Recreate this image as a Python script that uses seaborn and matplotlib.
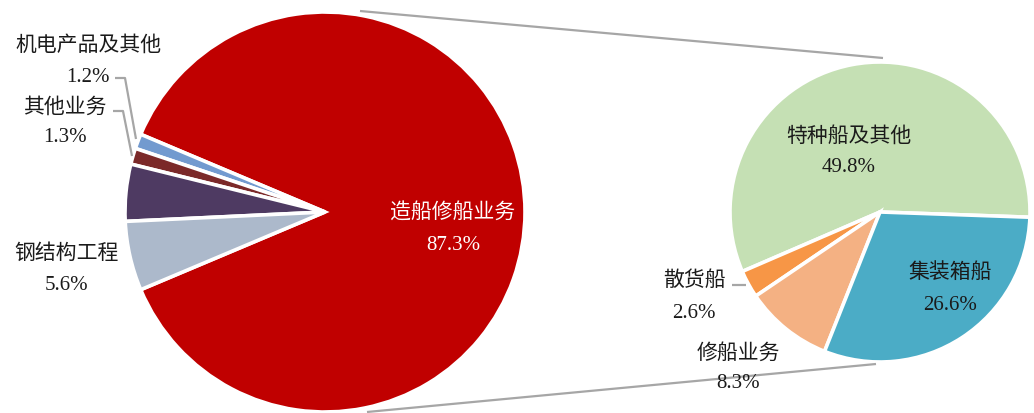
import matplotlib
matplotlib.use("Agg")
import matplotlib.pyplot as plt
import seaborn as sns

# ---------------- data ----------------
left_labels = ["造船修船业务", "机电产品及其他", "其他业务", "", "钢结构工程"]
left_values = [87.3, 1.2, 1.3, 4.6, 5.6]
left_colors = ["#C00000", "#729ACF", "#7B2929", "#4E3A62", "#ACB9CB"]

right_labels = ["特种船及其他", "散货船", "修船业务", "集装箱船"]
right_values = [49.8, 2.6, 8.3, 26.6]
right_colors = ["#C5E0B4", "#F79646", "#F4B183", "#4BACC6"]

# ---------------- style ----------------
sns.set_theme(style="white")
plt.rcParams["font.family"] = ["Liberation Serif", "Noto Sans CJK SC", "DejaVu Sans"]

W, H = 1034, 413
fig = plt.figure(figsize=(W / 100, H / 100), dpi=100)
ax = fig.add_axes([0, 0, 1, 1])


def py(y):
    return H - y


LC = (325, py(212))
LR = 200
RC = (880, py(212))
RR = 150

wedge_kw = dict(edgecolor="white", linewidth=2.6)
ax.pie(left_values, colors=left_colors, startangle=-157.14, counterclock=True,
       center=LC, radius=LR, wedgeprops=wedge_kw, frame=True)
ax.pie(right_values, colors=right_colors, startangle=-2, counterclock=True,
       center=RC, radius=RR, wedgeprops=wedge_kw, frame=True)

ax.set_xlim(0, W)
ax.set_ylim(0, H)
ax.set_aspect("equal")
ax.axis("off")

# connector lines between the pies
line_kw = dict(color="#A6A6A6", linewidth=1.6, solid_capstyle="butt")
ax.plot([360, 883], [py(11), py(58)], **line_kw)
ax.plot([367, 876], [py(412), py(364)], **line_kw)

# leader lines
ax.plot([115, 125, 136], [py(78), py(78), py(139)], **line_kw)
ax.plot([113, 123, 132], [py(111), py(111), py(156)], **line_kw)
ax.plot([732, 746], [py(285), py(285)], **line_kw)

# labels: (x center, y of name line, y of value line, colour)
left_pos = [(453, 213, 245, "white"), (88, 45, 77, "#1a1a1a"),
            (65, 107, 138, "#1a1a1a"), None, (67, 253, 285, "#1a1a1a")]
right_pos = [(849, 136, 167, "#1a1a1a"), (694, 280, 313, "#1a1a1a"),
             (738, 353, 383, "#1a1a1a"), (950, 272, 305, "#1a1a1a")]

for labels, values, positions in ((left_labels, left_values, left_pos),
                                  (right_labels, right_values, right_pos)):
    for lab, val, pos in zip(labels, values, positions):
        if pos is None or not lab:
            continue
        x, y1, y2, c = pos
        ax.text(x, py(y1), lab, ha="center", va="center", fontsize=15,
                color=c, family=["Noto Sans CJK SC", "DejaVu Sans"])
        ax.text(x, py(y2), f"{val:.1f}%", ha="center", va="center",
                fontsize=15, color=c,
                family=["Liberation Serif", "DejaVu Serif"])

fig.savefig("out.png", dpi=100, facecolor="white")
